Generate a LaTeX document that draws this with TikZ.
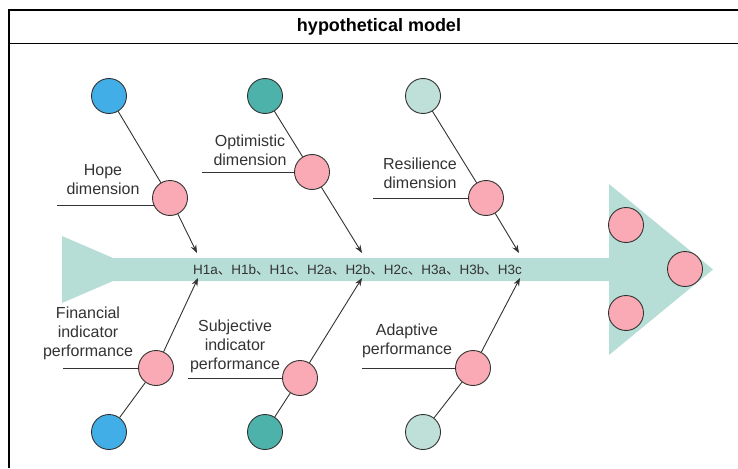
\documentclass[tikz,border=0pt]{standalone}
\usepackage{fontspec}
\setmainfont{Liberation Sans}
\newfontfamily\cjk{Noto Sans CJK SC}
\usetikzlibrary{arrows.meta}
\definecolor{cblue}{HTML}{42AEE8}
\definecolor{cteal}{HTML}{4DB3AA}
\definecolor{clteal}{HTML}{BEE0D8}
\definecolor{cspine}{HTML}{B7DED6}
\definecolor{cpink}{HTML}{F9AAB4}
\definecolor{cline}{HTML}{333333}
\definecolor{ctext}{HTML}{333333}
\tikzset{
  bub/.style={circle,draw=cline,line width=0.9pt,minimum size=35pt,inner sep=0pt},
  lbl/.style={align=center,text=ctext,font=\fontsize{16}{19}\selectfont,inner sep=0pt},
  con/.style={draw=cline,line width=0.9pt},
  arr/.style={con,-{Stealth[length=8pt,width=6pt]}},
}
\newcommand{\sep}{{\cjk 、}}
\begin{document}
\begin{tikzpicture}[x=1pt,y=-1pt]
\useasboundingbox (0,0) rectangle (738,468);
\fill[white] (0,0) rectangle (738,468);
% frame
\draw[line width=2pt] (8.5,468) -- (8.5,10) -- (738,10);
\draw[line width=1.6pt] (8.5,43.5) -- (738,43.5);
\node[font=\fontsize{18}{20}\selectfont\bfseries] (title) at (379,27) {hypothetical model};
% spine
\fill[cspine] (62,236) -- (113,258) -- (609,258) -- (609,184) -- (713,269.5)
  -- (609,355) -- (609,281) -- (113,281) -- (62,303) -- cycle;
\node[font=\fontsize{13.5}{16}\selectfont,text=ctext,inner sep=0pt] (hyp) at (357.5,269.5)
  {H1a\sep H1b\sep H1c\sep H2a\sep H2b\sep H2c\sep H3a\sep H3b\sep H3c};
% head circles
\node[bub,fill=cpink] (r1) at (626,225) {};
\node[bub,fill=cpink] (r2) at (685,269) {};
\node[bub,fill=cpink] (r3) at (626,313) {};
% end coordinates
\coordinate (t1) at (197,253);
\coordinate (t2) at (362,253);
\coordinate (t3) at (519,253);
\coordinate (b1) at (198,278);
\coordinate (b2) at (362,278);
\coordinate (b3) at (520,278);
% top branches
\node[bub,fill=cblue] (c1) at (109,96) {};
\node[bub,fill=cpink] (p1) at (170,198) {};
\node[bub,fill=cteal] (c2) at (265,96) {};
\node[bub,fill=cpink] (p2) at (312,172) {};
\node[bub,fill=clteal] (c3) at (423,96) {};
\node[bub,fill=cpink] (p3) at (486,198) {};
% bottom branches
\node[bub,fill=cblue] (d1) at (109,432) {};
\node[bub,fill=cpink] (q1) at (156,368) {};
\node[bub,fill=cteal] (d2) at (265,432) {};
\node[bub,fill=cpink] (q2) at (300,378) {};
\node[bub,fill=clteal] (d3) at (423,432) {};
\node[bub,fill=cpink] (q3) at (473,368) {};
% connectors
\draw[con] (c1) -- (p1);
\draw[arr] (p1) -- (t1);
\draw[con] (c2) -- (p2);
\draw[arr] (p2) -- (t2);
\draw[con] (c3) -- (p3);
\draw[arr] (p3) -- (t3);
\draw[con] (d1) -- (q1);
\draw[arr] (q1) -- (b1);
\draw[con] (d2) -- (q2);
\draw[arr] (q2) -- (b2);
\draw[con] (d3) -- (q3);
\draw[arr] (q3) -- (b3);
% labels
\node[lbl] (h1) at (103,179.5) {Hope\\dimension};
\node[lbl] (h2) at (250,150.5) {Optimistic\\dimension};
\node[lbl] (h3) at (420,173) {Resilience\\dimension};
\node[lbl] (g1) at (88,333) {Financial\\indicator\\performance};
\node[lbl] (g2) at (235,346) {Subjective\\indicator\\performance};
\node[lbl] (g3) at (407,341) {Adaptive\\performance};
% label underlines
\coordinate (u1) at (57,0);
\coordinate (u2) at (202,0);
\coordinate (u3) at (373,0);
\coordinate (v1) at (63,0);
\coordinate (v2) at (188,0);
\coordinate (v3) at (362,0);
\draw[con] (p1.205 -| u1) -- (p1.205);
\draw[con] (p2.west -| u2) -- (p2.west);
\draw[con] (p3.west -| u3) -- (p3.west);
\draw[con] (q1.west -| v1) -- (q1.west);
\draw[con] (q2.west -| v2) -- (q2.west);
\draw[con] (q3.west -| v3) -- (q3.west);
\end{tikzpicture}
\end{document}
